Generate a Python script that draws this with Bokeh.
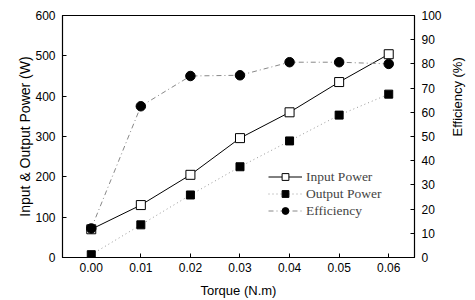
import math
from bokeh.plotting import figure
from bokeh.models import Range1d, LinearAxis, FixedTicker, PrintfTickFormatter, Legend, LegendItem, Title
from bokeh.embed import file_html
from bokeh.resources import INLINE

torque = [0.0, 0.01, 0.02, 0.03, 0.04, 0.05, 0.06]
input_power = [70, 130, 205, 296, 360, 435, 504]
output_power = [7, 81, 155, 225, 289, 353, 405]
efficiency = [12, 62.5, 75, 75.3, 80.7, 80.7, 80]

x_ticks = [0.0, 0.01, 0.02, 0.03, 0.04, 0.05, 0.06]
left_ticks = [0, 100, 200, 300, 400, 500, 600]
right_ticks = [0, 10, 20, 30, 40, 50, 60, 70, 80, 90, 100]

p = figure(width=475, height=300, output_backend="svg", toolbar_location=None,
           x_range=Range1d(-0.0058, 0.0652), y_range=Range1d(0, 600),
           min_border_left=62, min_border_right=56, min_border_top=15, min_border_bottom=42)
p.extra_y_ranges = {"eff": Range1d(0, 100)}
p.grid.visible = False
p.outline_line_color = "black"
p.outline_line_width = 1.2
p.background_fill_color = "white"
p.border_fill_color = "white"

TICK_FONT = "Liberation Sans"

def style_axis(ax):
    ax.major_tick_in = 4
    ax.major_tick_out = 0
    ax.minor_tick_in = 0
    ax.minor_tick_out = 0
    ax.axis_line_color = "black"
    ax.major_tick_line_color = "black"
    ax.major_label_text_font = TICK_FONT
    ax.major_label_text_font_size = "12px"
    ax.major_label_text_color = "black"
    ax.axis_label_text_font = TICK_FONT
    ax.axis_label_text_font_size = "13px"
    ax.axis_label_text_font_style = "normal"
    ax.axis_label_text_color = "black"

xa = p.xaxis[0]
style_axis(xa)
xa.ticker = FixedTicker(ticks=x_ticks)
xa.formatter = PrintfTickFormatter(format="%.2f")
xa.axis_label = "Torque (N.m)"
xa.major_label_standoff = 5
xa.axis_label_standoff = 8

ya = p.yaxis[0]
style_axis(ya)
ya.ticker = FixedTicker(ticks=left_ticks)
ya.major_label_standoff = 7

ra = LinearAxis(y_range_name="eff")
style_axis(ra)
ra.ticker = FixedTicker(ticks=right_ticks)
ra.major_label_standoff = 7
ra.axis_label = "Efficiency (%)"
ra.axis_label_orientation = math.pi / 2
ra.axis_label_standoff = 13
p.add_layout(ra, "right")

left_title = Title(text="Input & Output Power (W)", align="center", offset=14,
                   text_font=TICK_FONT, text_font_size="14px", text_font_style="normal",
                   text_color="black", standoff=0)
p.add_layout(left_title, "left")

l1 = p.line(torque, input_power, line_color="black", line_width=1)
m1 = p.scatter(torque, input_power, marker="square", size=9, fill_color="white",
               line_color="black", line_width=1)
l2 = p.line(torque, output_power, line_color="#999999", line_width=1, line_dash="1 3")
m2 = p.scatter(torque, output_power, marker="square", size=8, fill_color="black",
               line_color="black")
l3 = p.line(torque, efficiency, y_range_name="eff", line_color="#888888", line_width=1,
            line_dash="5 3 1 3")
m3 = p.scatter(torque, efficiency, y_range_name="eff", marker="circle", size=9.5,
               fill_color="black", line_color="black")

legend = Legend(items=[
    LegendItem(label="Input Power", renderers=[l1, m1]),
    LegendItem(label="Output Power", renderers=[l2, m2]),
    LegendItem(label="Efficiency", renderers=[l3, m3]),
], location=(206, 38))
legend.border_line_color = None
legend.background_fill_alpha = 0
legend.label_text_font = "Liberation Serif"
legend.label_text_font_size = "13.5px"
legend.glyph_width = 34
legend.label_standoff = 4
legend.spacing = 0
legend.label_height = 17
legend.glyph_height = 17
legend.padding = 2
legend.margin = 0
p.add_layout(legend)

open("out.html", "w").write(file_html(p, INLINE))
